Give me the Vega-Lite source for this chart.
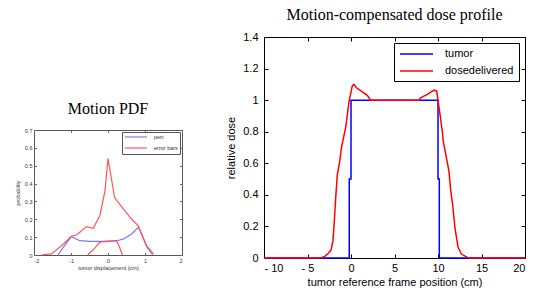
{
  "$schema": "https://vega.github.io/schema/vega-lite/v6.json",
  "background": "white",
  "padding": {"left": 14, "top": 6, "right": 0, "bottom": 0},
  "spacing": 42,
  "resolve": {"scale": {"color": "independent"}, "legend": {"color": "independent"}},
  "config": {"view": {"stroke": null}, "font": "Liberation Sans", "axis": {"grid": false, "domain": false}},
  "datasets": {
    "pdf": [
      {"i": 1, "series": "pert", "part": "p", "x": -1.35, "y": 0},
      {"i": 2, "series": "pert", "part": "p", "x": -1.2, "y": 0.045},
      {"i": 3, "series": "pert", "part": "p", "x": -0.99, "y": 0.103},
      {"i": 4, "series": "pert", "part": "p", "x": -0.76, "y": 0.08},
      {"i": 5, "series": "pert", "part": "p", "x": -0.5, "y": 0.076},
      {"i": 6, "series": "pert", "part": "p", "x": -0.2, "y": 0.076},
      {"i": 7, "series": "pert", "part": "p", "x": 0.05, "y": 0.078},
      {"i": 8, "series": "pert", "part": "p", "x": 0.25, "y": 0.08},
      {"i": 9, "series": "pert", "part": "p", "x": 0.42, "y": 0.09},
      {"i": 10, "series": "pert", "part": "p", "x": 0.64, "y": 0.118},
      {"i": 11, "series": "pert", "part": "p", "x": 0.82, "y": 0.155},
      {"i": 12, "series": "pert", "part": "p", "x": 0.92, "y": 0.11},
      {"i": 13, "series": "pert", "part": "p", "x": 1.05, "y": 0.043},
      {"i": 14, "series": "pert", "part": "p", "x": 1.21, "y": 0},
      {"i": 1, "series": "error bars", "part": "u", "x": -1.8, "y": 0},
      {"i": 2, "series": "error bars", "part": "u", "x": -1.53, "y": 0.006},
      {"i": 3, "series": "error bars", "part": "u", "x": -1.21, "y": 0.06},
      {"i": 4, "series": "error bars", "part": "u", "x": -0.99, "y": 0.105},
      {"i": 5, "series": "error bars", "part": "u", "x": -0.85, "y": 0.112},
      {"i": 6, "series": "error bars", "part": "u", "x": -0.58, "y": 0.159},
      {"i": 7, "series": "error bars", "part": "u", "x": -0.4, "y": 0.149},
      {"i": 8, "series": "error bars", "part": "u", "x": -0.22, "y": 0.22},
      {"i": 9, "series": "error bars", "part": "u", "x": -0.08, "y": 0.36},
      {"i": 10, "series": "error bars", "part": "u", "x": 0, "y": 0.54},
      {"i": 11, "series": "error bars", "part": "u", "x": 0.18, "y": 0.32},
      {"i": 12, "series": "error bars", "part": "u", "x": 0.41, "y": 0.26},
      {"i": 13, "series": "error bars", "part": "u", "x": 0.64, "y": 0.2},
      {"i": 14, "series": "error bars", "part": "u", "x": 0.82, "y": 0.164},
      {"i": 15, "series": "error bars", "part": "u", "x": 0.9, "y": 0.12},
      {"i": 16, "series": "error bars", "part": "u", "x": 1.05, "y": 0.05},
      {"i": 17, "series": "error bars", "part": "u", "x": 1.23, "y": 0.006},
      {"i": 1, "series": "error bars", "part": "l", "x": -0.55, "y": 0},
      {"i": 2, "series": "error bars", "part": "l", "x": -0.35, "y": 0.04},
      {"i": 3, "series": "error bars", "part": "l", "x": -0.22, "y": 0.072},
      {"i": 4, "series": "error bars", "part": "l", "x": 0.23, "y": 0.08},
      {"i": 5, "series": "error bars", "part": "l", "x": 0.3, "y": 0.05},
      {"i": 6, "series": "error bars", "part": "l", "x": 0.39, "y": 0}
    ],
    "dose": [
      {"i": 1, "series": "tumor", "x": -10, "y": 0},
      {"i": 2, "series": "tumor", "x": -0.2, "y": 0},
      {"i": 3, "series": "tumor", "x": -0.2, "y": 0.5},
      {"i": 4, "series": "tumor", "x": 0, "y": 0.5},
      {"i": 5, "series": "tumor", "x": 0, "y": 1},
      {"i": 6, "series": "tumor", "x": 10, "y": 1},
      {"i": 7, "series": "tumor", "x": 10, "y": 0.5},
      {"i": 8, "series": "tumor", "x": 10.15, "y": 0.5},
      {"i": 9, "series": "tumor", "x": 10.15, "y": 0},
      {"i": 10, "series": "tumor", "x": 20, "y": 0},
      {"i": 1, "series": "dosedelivered", "x": -10, "y": 0},
      {"i": 2, "series": "dosedelivered", "x": -3.5, "y": 0},
      {"i": 3, "series": "dosedelivered", "x": -3.0, "y": 0.01},
      {"i": 4, "series": "dosedelivered", "x": -2.6, "y": 0.03},
      {"i": 5, "series": "dosedelivered", "x": -2.3, "y": 0.05},
      {"i": 6, "series": "dosedelivered", "x": -2.07, "y": 0.11},
      {"i": 7, "series": "dosedelivered", "x": -1.9, "y": 0.25},
      {"i": 8, "series": "dosedelivered", "x": -1.76, "y": 0.38},
      {"i": 9, "series": "dosedelivered", "x": -1.57, "y": 0.53},
      {"i": 10, "series": "dosedelivered", "x": -1.3, "y": 0.61},
      {"i": 11, "series": "dosedelivered", "x": -1.1, "y": 0.7},
      {"i": 12, "series": "dosedelivered", "x": -0.6, "y": 0.83},
      {"i": 13, "series": "dosedelivered", "x": -0.23, "y": 0.99},
      {"i": 14, "series": "dosedelivered", "x": 0.15, "y": 1.09},
      {"i": 15, "series": "dosedelivered", "x": 0.35, "y": 1.1},
      {"i": 16, "series": "dosedelivered", "x": 0.6, "y": 1.08},
      {"i": 17, "series": "dosedelivered", "x": 1.1, "y": 1.06},
      {"i": 18, "series": "dosedelivered", "x": 1.87, "y": 1.03},
      {"i": 19, "series": "dosedelivered", "x": 2.26, "y": 1.0},
      {"i": 20, "series": "dosedelivered", "x": 7.82, "y": 1.0},
      {"i": 21, "series": "dosedelivered", "x": 8.0, "y": 1.015},
      {"i": 22, "series": "dosedelivered", "x": 8.77, "y": 1.036},
      {"i": 23, "series": "dosedelivered", "x": 9.54, "y": 1.063},
      {"i": 24, "series": "dosedelivered", "x": 9.85, "y": 1.057},
      {"i": 25, "series": "dosedelivered", "x": 10.0, "y": 1.0},
      {"i": 26, "series": "dosedelivered", "x": 10.23, "y": 0.91},
      {"i": 27, "series": "dosedelivered", "x": 10.5, "y": 0.8},
      {"i": 28, "series": "dosedelivered", "x": 10.6, "y": 0.74},
      {"i": 29, "series": "dosedelivered", "x": 10.88, "y": 0.66},
      {"i": 30, "series": "dosedelivered", "x": 11.26, "y": 0.55},
      {"i": 31, "series": "dosedelivered", "x": 11.46, "y": 0.43},
      {"i": 32, "series": "dosedelivered", "x": 11.72, "y": 0.32},
      {"i": 33, "series": "dosedelivered", "x": 11.95, "y": 0.19},
      {"i": 34, "series": "dosedelivered", "x": 12.3, "y": 0.07},
      {"i": 35, "series": "dosedelivered", "x": 12.68, "y": 0.025},
      {"i": 36, "series": "dosedelivered", "x": 13.37, "y": 0.004},
      {"i": 37, "series": "dosedelivered", "x": 13.56, "y": 0},
      {"i": 38, "series": "dosedelivered", "x": 20, "y": 0}
    ]
  },
  "hconcat": [
    {
      "spacing": 0,
      "resolve": {"scale": {"color": "independent"}, "legend": {"color": "independent"}},
      "vconcat": [
        {
          "width": 148, "height": 63,
          "data": {"values": [{}]},
          "mark": {"type": "point", "opacity": 0},
          "encoding": {}
        },
        {
          "width": 148, "height": 125,
          "title": {"text": "Motion PDF", "font": "Liberation Serif", "fontSize": 16, "fontWeight": "normal", "color": "black", "offset": 11},
          "view": {"stroke": "#555", "strokeWidth": 1},
          "data": {"name": "pdf"},
          "layer": [
            {
              "mark": {"type": "line", "strokeWidth": 1.2},
              "encoding": {
                "x": {"field": "x", "type": "quantitative", "scale": {"domain": [-2, 2]},
                  "axis": {"orient": "bottom", "ticks": false, "values": [-2, -1, 0, 1, 2], "labelExpr": "'' + datum.value", "title": "tumor displacement (cm)", "labelFontSize": 5.5, "titleFontSize": 5.5, "titleFontWeight": "normal", "labelColor": "#333", "titleColor": "#333", "labelPadding": 3, "titlePadding": 2}},
                "y": {"field": "y", "type": "quantitative", "scale": {"domain": [0, 0.7]},
                  "axis": {"orient": "left", "ticks": false, "values": [0, 0.1, 0.2, 0.3, 0.4, 0.5, 0.6, 0.7], "format": ".1~f", "title": "probability", "labelFontSize": 5.5, "titleFontSize": 5.5, "titleFontWeight": "normal", "labelColor": "#333", "titleColor": "#333", "labelPadding": 2, "titlePadding": 4}},
                "color": {"field": "series", "type": "nominal", "scale": {"domain": ["pert", "error bars"], "range": ["#7878ff", "#ff5555"]},
                  "legend": {"title": null, "orient": "top-right", "offset": 2, "symbolType": "M-1,0H10", "symbolSize": 16, "symbolStrokeWidth": 1.2, "labelOffset": 24, "labelFontSize": 5.5, "labelColor": "#333", "strokeColor": "#555", "fillColor": "white", "padding": 2, "rowPadding": 4}},
                "detail": {"field": "part"},
                "order": {"field": "i", "type": "quantitative"}
              }
            },
            {
              "mark": {"type": "line", "opacity": 0},
              "encoding": {
                "x": {"field": "x", "type": "quantitative", "axis": {"orient": "bottom", "offset": -2.5, "values": [-2, -1, 0, 1, 2], "labels": false, "title": null, "tickColor": "#666", "tickSize": 2.5}},
                "y": {"field": "y", "type": "quantitative", "axis": {"orient": "left", "offset": -2.5, "values": [0, 0.1, 0.2, 0.3, 0.4, 0.5, 0.6, 0.7], "labels": false, "title": null, "tickColor": "#666", "tickSize": 2.5}},
                "detail": {"field": "part"}
              }
            },
            {
              "mark": {"type": "line", "opacity": 0},
              "encoding": {
                "x": {"field": "x", "type": "quantitative", "axis": {"orient": "top", "offset": -2.5, "values": [-2, -1, 0, 1, 2], "labels": false, "title": null, "tickColor": "#666", "tickSize": 2.5}},
                "y": {"field": "y", "type": "quantitative", "axis": {"orient": "right", "offset": -2.5, "values": [0, 0.1, 0.2, 0.3, 0.4, 0.5, 0.6, 0.7], "labels": false, "title": null, "tickColor": "#666", "tickSize": 2.5}},
                "detail": {"field": "part"}
              }
            }
          ],
          "resolve": {"axis": {"x": "independent", "y": "independent"}}
        }
      ]
    },
    {
      "width": 261, "height": 221,
      "title": {"text": "Motion-compensated dose profile", "font": "Liberation Serif", "fontSize": 16, "fontWeight": "normal", "color": "black", "offset": 8},
      "view": {"stroke": "black", "strokeWidth": 1},
      "data": {"name": "dose"},
      "layer": [
        {
          "transform": [{"filter": "datum.series === 'tumor'"}],
          "mark": {"type": "line", "strokeWidth": 1.5},
          "encoding": {
            "x": {"field": "x", "type": "quantitative", "scale": {"domain": [-10, 20]},
              "axis": {"orient": "bottom", "ticks": false, "values": [-10, -5, 0, 5, 10, 15, 20], "labelExpr": "datum.value < 0 ? '- ' + (-datum.value) : '' + datum.value", "title": "tumor reference frame position (cm)", "labelFontSize": 11, "titleFontSize": 11, "titleFontWeight": "normal", "labelColor": "black", "titleColor": "black", "labelPadding": 4, "titlePadding": 3}},
            "y": {"field": "y", "type": "quantitative", "scale": {"domain": [0, 1.4]},
              "axis": {"orient": "left", "ticks": false, "values": [0, 0.2, 0.4, 0.6, 0.8, 1, 1.2, 1.4], "format": ".1~f", "title": "relative dose", "labelFontSize": 11, "titleFontSize": 11, "titleFontWeight": "normal", "labelColor": "black", "titleColor": "black", "labelPadding": 6, "titlePadding": 6}},
            "color": {"field": "series", "type": "nominal", "scale": {"domain": ["tumor", "dosedelivered"], "range": ["#0000ff", "#ff0000"]},
              "legend": {"title": null, "orient": "top-right", "offset": 6, "symbolType": "M-1,0H5.6", "symbolSize": 100, "symbolStrokeWidth": 1.5, "labelOffset": 34, "labelFontSize": 11, "labelColor": "black", "strokeColor": "black", "fillColor": "white", "padding": 5, "rowPadding": 6}},
            "order": {"field": "i", "type": "quantitative"}
          }
        },
        {
          "transform": [{"filter": "datum.series === 'dosedelivered'"}],
          "mark": {"type": "line", "strokeWidth": 1.5},
          "encoding": {
            "x": {"field": "x", "type": "quantitative", "axis": {"orient": "bottom", "offset": -4, "values": [-10, -5, 0, 5, 10, 15, 20], "labels": false, "title": null, "tickColor": "black", "tickSize": 4}},
            "y": {"field": "y", "type": "quantitative", "axis": {"orient": "left", "offset": -4, "values": [0, 0.2, 0.4, 0.6, 0.8, 1, 1.2, 1.4], "labels": false, "title": null, "tickColor": "black", "tickSize": 4}},
            "color": {"field": "series", "type": "nominal"},
            "order": {"field": "i", "type": "quantitative"}
          }
        },
        {
          "mark": {"type": "line", "opacity": 0},
          "encoding": {
            "x": {"field": "x", "type": "quantitative", "axis": {"orient": "top", "offset": -4, "values": [-10, -5, 0, 5, 10, 15, 20], "labels": false, "title": null, "tickColor": "black", "tickSize": 4}},
            "y": {"field": "y", "type": "quantitative", "axis": {"orient": "right", "offset": -4, "values": [0, 0.2, 0.4, 0.6, 0.8, 1, 1.2, 1.4], "labels": false, "title": null, "tickColor": "black", "tickSize": 4}},
            "detail": {"field": "series"}
          }
        }
      ],
      "resolve": {"axis": {"x": "independent", "y": "independent"}}
    }
  ]
}
